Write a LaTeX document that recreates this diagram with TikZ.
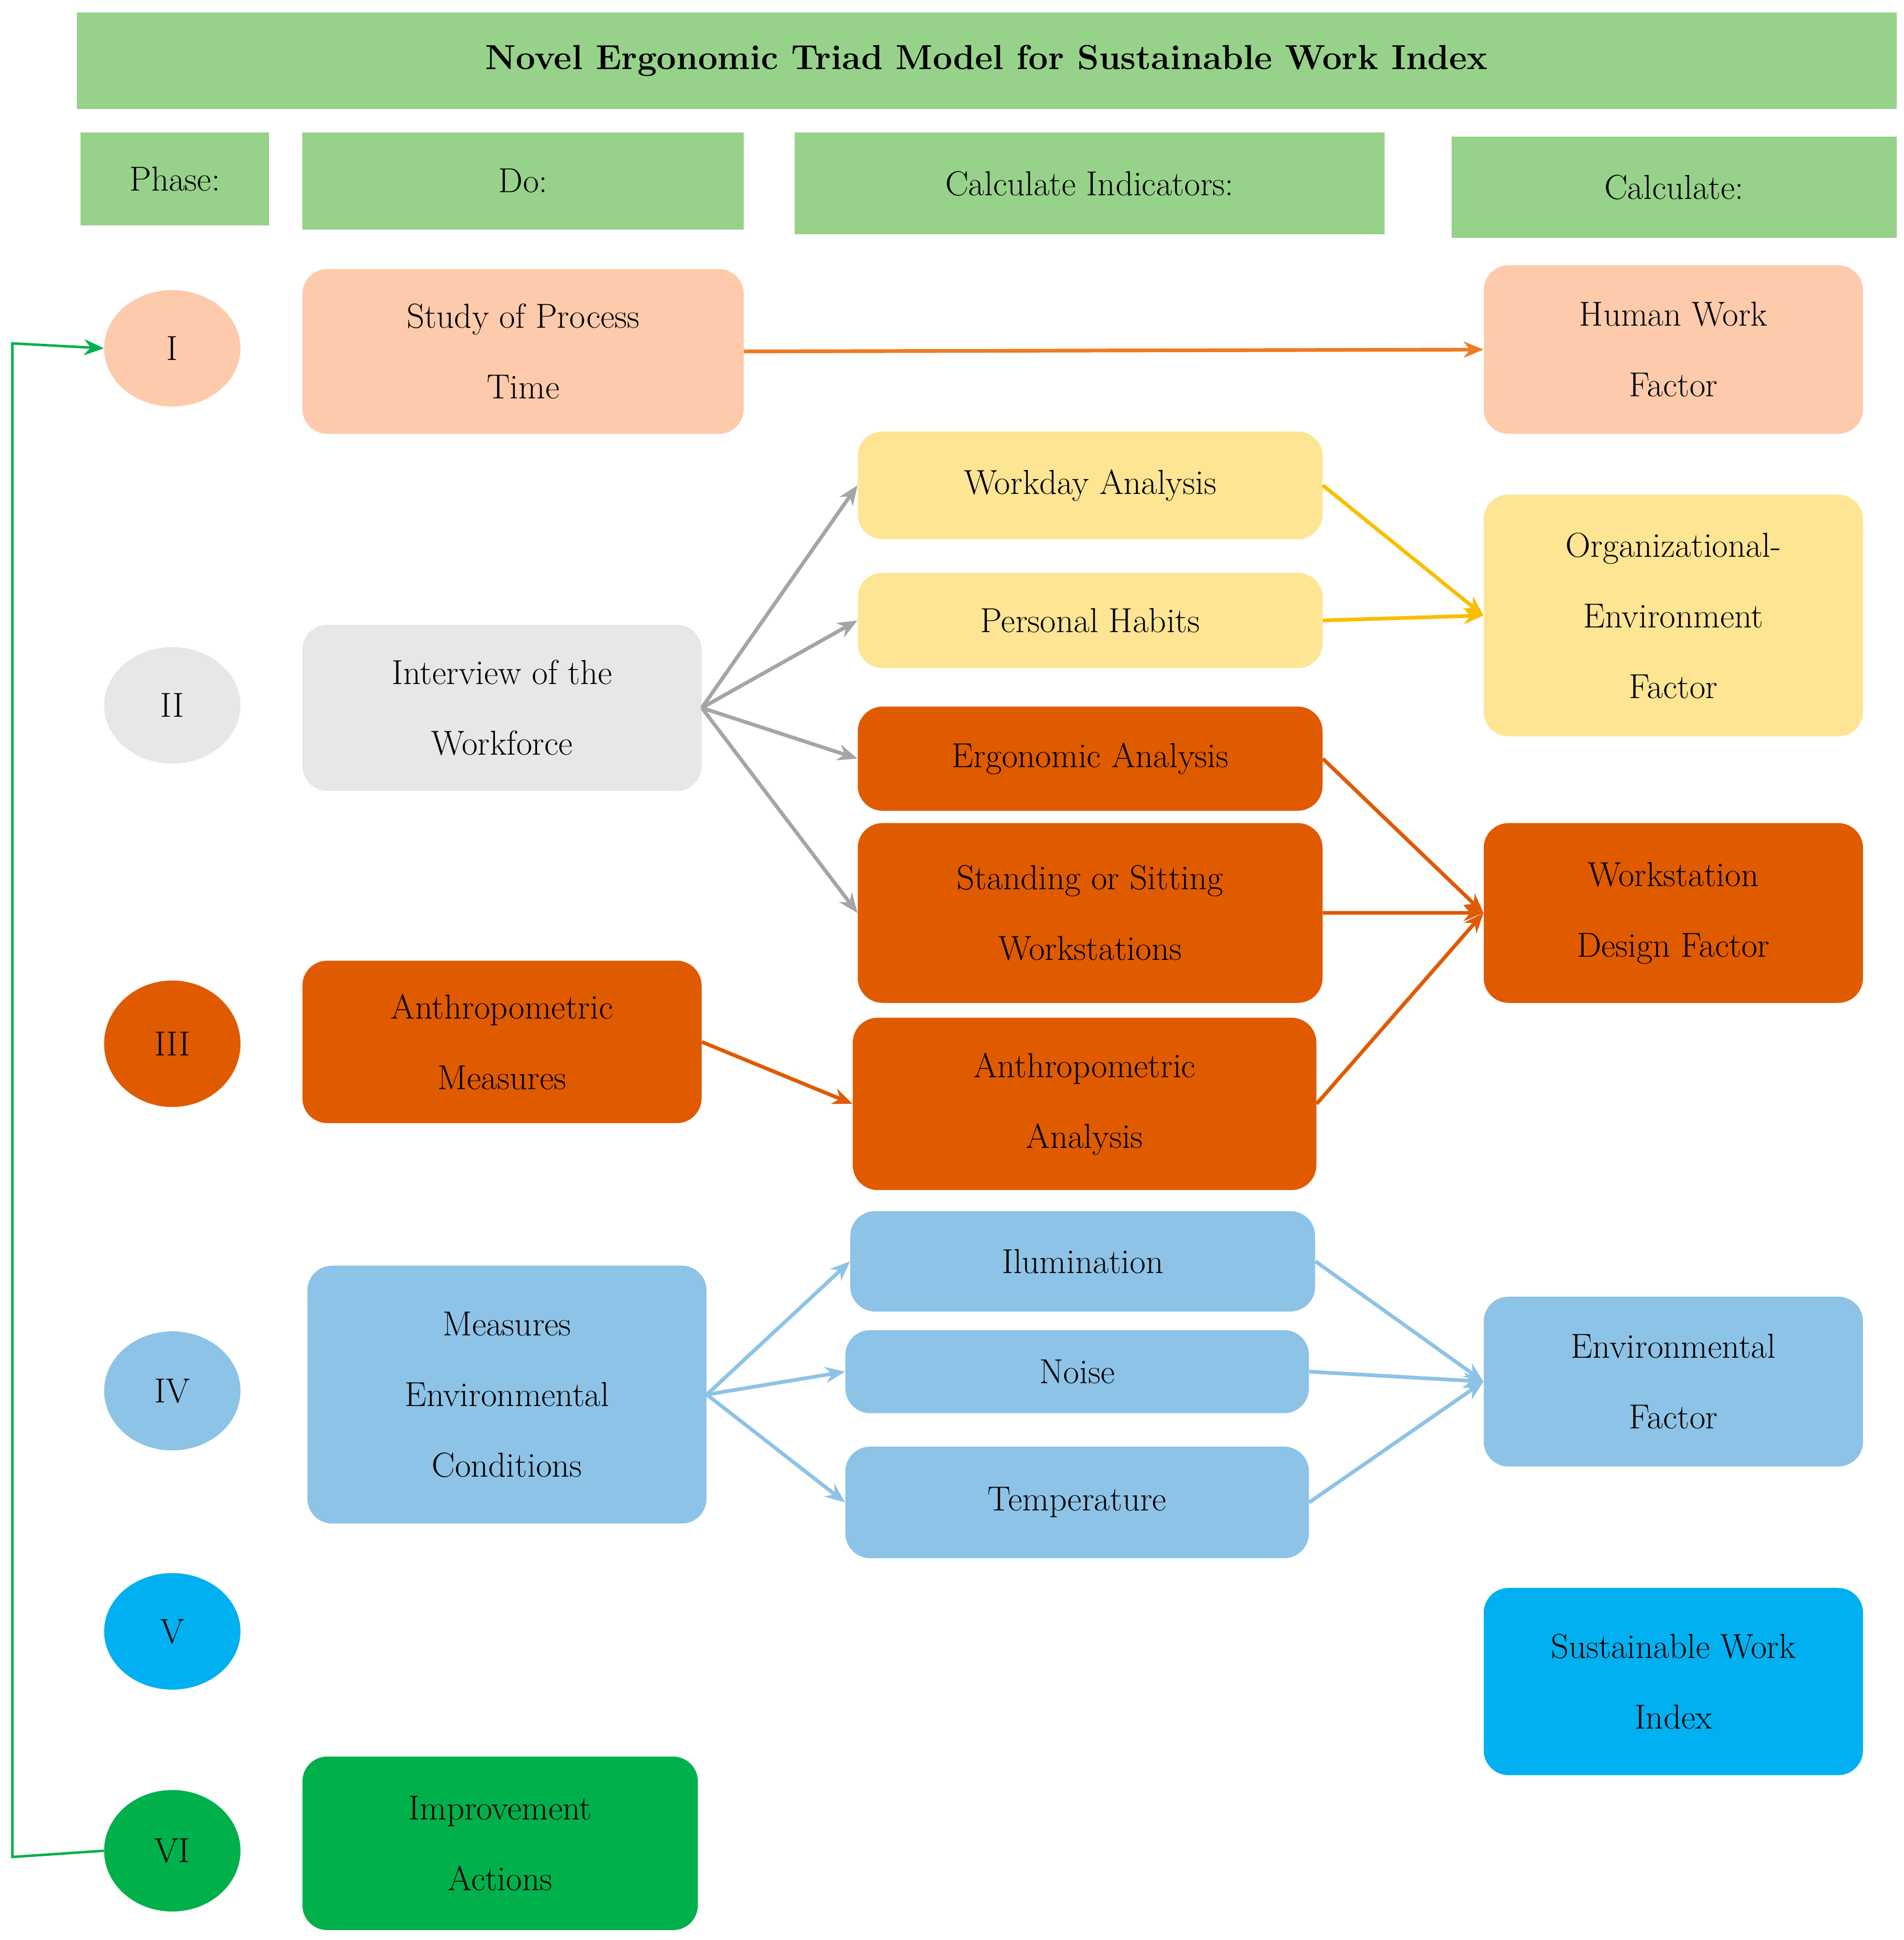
\documentclass[tikz,border=0pt]{standalone}
\usetikzlibrary{arrows.meta,shapes.geometric}
\begin{document}
\begin{tikzpicture}[x=1pt,y=-1pt,
  every node/.style={font=\fontsize{28}{57}\selectfont,align=center,inner sep=0pt,text=black},
  hd/.style={fill=hdg,draw=none},
  box/.style={rounded corners=20pt,draw=none},
  ph/.style={ellipse,minimum width=110pt,draw=none},
  ar/.style={line width=3pt,-{Stealth[length=16pt,width=13pt]}}]
\definecolor{hdg}{HTML}{97D28A}
\definecolor{peach}{HTML}{FDCBAC}
\definecolor{lgray}{HTML}{E7E7E7}
\definecolor{dorange}{HTML}{E05A00}
\definecolor{lblue}{HTML}{8DC3E6}
\definecolor{ggreen}{HTML}{00B04A}
\definecolor{lyel}{HTML}{FEE594}
\definecolor{cyanb}{HTML}{00B0F0}
\definecolor{aorange}{HTML}{F07A20}
\definecolor{ayel}{HTML}{F9BE00}
\definecolor{agray}{HTML}{A5A5A5}
\useasboundingbox (0,0) rectangle (1536,1565);
% headers
\node[hd,minimum width=1468pt,minimum height=78pt,font=\fontsize{28}{57}\selectfont\bfseries] (title) at (796,49) {Novel Ergonomic Triad Model for Sustainable Work Index};
\node[hd,minimum width=152pt,minimum height=75pt] (hph) at (141,144.5) {Phase:};
\node[hd,minimum width=356pt,minimum height=78pt] (hdo) at (422,146) {Do:};
\node[hd,minimum width=476pt,minimum height=82pt] (hci) at (879,148) {Calculate Indicators:};
\node[hd,minimum width=359pt,minimum height=82pt] (hca) at (1350.5,151) {Calculate:};
% phases
\node[ph,fill=peach,minimum height=94pt] (p1) at (139,281) {I};
\node[ph,fill=lgray,minimum height=94pt] (p2) at (139,569) {II};
\node[ph,fill=dorange,minimum height=102pt] (p3) at (139,842) {III};
\node[ph,fill=lblue,minimum height=96pt] (p4) at (139,1122) {IV};
\node[ph,fill=cyanb,minimum height=94pt] (p5) at (139,1316) {V};
\node[ph,fill=ggreen,minimum height=98pt] (p6) at (139,1493) {VI};
% do
\node[box,fill=peach,minimum width=356pt,minimum height=133pt] (study) at (422,283.5) {Study of Process\\Time};
\node[box,fill=lgray,minimum width=322pt,minimum height=134pt] (inter) at (405,571) {Interview of the\\Workforce};
\node[box,fill=dorange,minimum width=322pt,minimum height=131pt] (antm) at (405,840.5) {Anthropometric\\Measures};
\node[box,fill=lblue,minimum width=322pt,minimum height=208pt] (meas) at (409,1125) {Measures\\Environmental\\Conditions};
\node[box,fill=ggreen,minimum width=319pt,minimum height=140pt] (impr) at (403.5,1487) {Improvement\\Actions};
% indicators
\node[box,fill=lyel,minimum width=375pt,minimum height=87pt] (work) at (879.5,391.5) {Workday Analysis};
\node[box,fill=lyel,minimum width=375pt,minimum height=77pt] (pers) at (879.5,500.5) {Personal Habits};
\node[box,fill=dorange,minimum width=375pt,minimum height=84pt] (ergo) at (879.5,612) {Ergonomic Analysis};
\node[box,fill=dorange,minimum width=375pt,minimum height=145pt] (stand) at (879.5,736.5) {Standing or Sitting\\Workstations};
\node[box,fill=dorange,minimum width=374pt,minimum height=139pt] (anta) at (875,890.5) {Anthropometric\\Analysis};
\node[box,fill=lblue,minimum width=375pt,minimum height=81pt] (ilum) at (873.5,1017.5) {Ilumination};
\node[box,fill=lblue,minimum width=374pt,minimum height=67pt] (noise) at (869,1106.5) {Noise};
\node[box,fill=lblue,minimum width=374pt,minimum height=90pt] (temp) at (869,1212) {Temperature};
% calculate
\node[box,fill=peach,minimum width=306pt,minimum height=136pt] (human) at (1350,282) {Human Work\\Factor};
\node[box,fill=lyel,minimum width=306pt,minimum height=195pt] (org) at (1350,496.5) {Organizational-\\Environment\\Factor};
\node[box,fill=dorange,minimum width=306pt,minimum height=145pt] (wsd) at (1350,736.5) {Workstation\\Design Factor};
\node[box,fill=lblue,minimum width=306pt,minimum height=137pt] (env) at (1350,1114.5) {Environmental\\Factor};
\node[box,fill=cyanb,minimum width=306pt,minimum height=151pt] (swi) at (1350,1356.5) {Sustainable Work\\Index};
% arrows
\draw[ar,aorange] (study.east) -- (human.west);
\foreach \t in {work,pers,ergo,stand}{\draw[ar,agray] (inter.east) -- (\t.west);}
\draw[ar,ayel] (work.east) -- (org.west);
\draw[ar,ayel] (pers.east) -- (org.west);
\draw[ar,dorange] (ergo.east) -- (wsd.west);
\draw[ar,dorange] (stand.east) -- (wsd.west);
\draw[ar,dorange] (anta.east) -- (wsd.west);
\draw[ar,dorange] (antm.east) -- (anta.west);
\foreach \t in {ilum,noise,temp}{\draw[ar,lblue] (meas.east) -- (\t.west); \draw[ar,lblue] (\t.east) -- (env.west);}
\coordinate (fb1) at (10,1498);
\coordinate (fb2) at (10,277);
\draw[line width=2pt,ggreen,-{Stealth[length=16pt,width=13pt]}] (p6.west) -- (fb1) -- (fb2) -- (p1.west);
\end{tikzpicture}
\end{document}
